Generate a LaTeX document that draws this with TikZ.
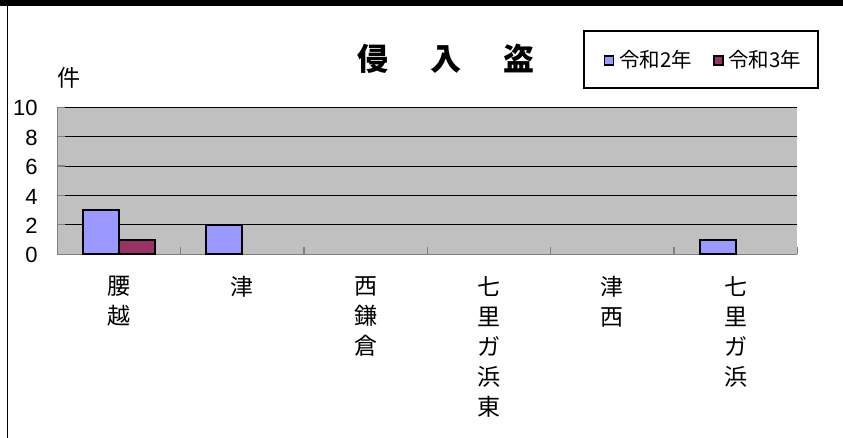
\documentclass[tikz,border=0pt]{standalone}
\usepackage{fontspec}
\setmainfont{Noto Sans CJK JP}
\newfontfamily\numfont{Liberation Sans}
\definecolor{barA}{HTML}{9999FF}
\definecolor{barB}{HTML}{993366}
\definecolor{plotbg}{HTML}{C0C0C0}
\definecolor{axisgray}{HTML}{808080}
\tikzset{
  txt/.style={inner sep=0pt, outer sep=0pt},
  ylab/.style={txt, anchor=east, font=\numfont\fontsize{22}{22}\selectfont},
  xlab/.style={txt, anchor=north, align=center, font=\fontsize{23}{30}\selectfont},
  grid line/.style={black, line width=1pt},
  axis line/.style={axisgray, line width=1.4pt},
  tick line/.style={axisgray, line width=1.2pt},
  barstyle/.style={draw=black, line width=2pt, line join=miter},
  legsq/.style={draw=black, line width=1.6pt, minimum width=9pt, minimum height=9pt, inner sep=0pt},
  legtxt/.style={txt, anchor=west, font=\fontsize{20.5}{20.5}\selectfont}
}
\begin{document}
\begin{tikzpicture}[x=1pt,y=-1pt]
\useasboundingbox (0,0) rectangle (843,438);
% outer frame
\fill[black] (0,0) rectangle (843,6);
\draw[black, line width=1.2pt] (7.5,6) -- (7.5,438);
% plot area
\fill[plotbg] (57.3,107.3) rectangle (797.3,254.3);
\foreach \yy in {107.3,136.7,166.1,195.5,224.9}
  \draw[grid line] (57.3,\yy) -- (797.3,\yy);
\foreach \yy in {107.3,136.7,166.1,195.5,224.9,254.3}
  \draw[tick line] (57.3,\yy) -- (65,\yy);
\foreach \k in {0,...,6}
  \draw[tick line] ({57.3+\k*123.333},254.3) -- ({57.3+\k*123.333},246.6);
\draw[axis line] (57.3,107.3) -- (57.3,254.3) -- (797.3,254.3);
% bars
\draw[barstyle, fill=barA] (83,254.3) rectangle (119,210.2);
\draw[barstyle, fill=barB] (119,254.3) rectangle (155,239.6);
\draw[barstyle, fill=barA] (206.3,254.3) rectangle (242.3,224.9);
\draw[barstyle, fill=barA] (699.6,254.3) rectangle (735.6,239.6);
% y labels
\node[ylab] (y10) at (37.5,108.3) {10};
\node[ylab] (y8) at (37.5,137.7) {8};
\node[ylab] (y6) at (37.5,167.1) {6};
\node[ylab] (y4) at (37.5,196.5) {4};
\node[ylab] (y2) at (37.5,225.9) {2};
\node[ylab] (y0) at (37.5,255.3) {0};
\node[txt, font=\fontsize{23}{23}\selectfont] (unit) at (69,77.5) {件};
% title
\node[txt, font=\bfseries\fontsize{31}{31}\selectfont] (title) at (446,59) {侵\hspace{42pt}入\hspace{42pt}盗};
% legend
\node[draw=black, line width=1.2pt, minimum width=234pt, minimum height=57pt, inner sep=0pt] (legend) at (701,59.5) {};
\node[legsq, fill=barA] (sqA) at (608.8,60.5) {};
\node[legtxt] (legA) at (619,60) {令和2年};
\node[legsq, fill=barB] (sqB) at (718.6,60.5) {};
\node[legtxt] (legB) at (728.3,60) {令和3年};
% x labels
\node[xlab] (c1) at (119,276.5) {腰\\越};
\node[xlab] (c2) at (242.3,276.5) {津};
\node[xlab] (c3) at (365.6,276.5) {西\\鎌\\倉};
\node[xlab] (c4) at (489,276.5) {七\\里\\ガ\\浜\\東};
\node[xlab] (c5) at (612.3,276.5) {津\\西};
\node[xlab] (c6) at (735.6,276.5) {七\\里\\ガ\\浜};
\end{tikzpicture}
\end{document}
